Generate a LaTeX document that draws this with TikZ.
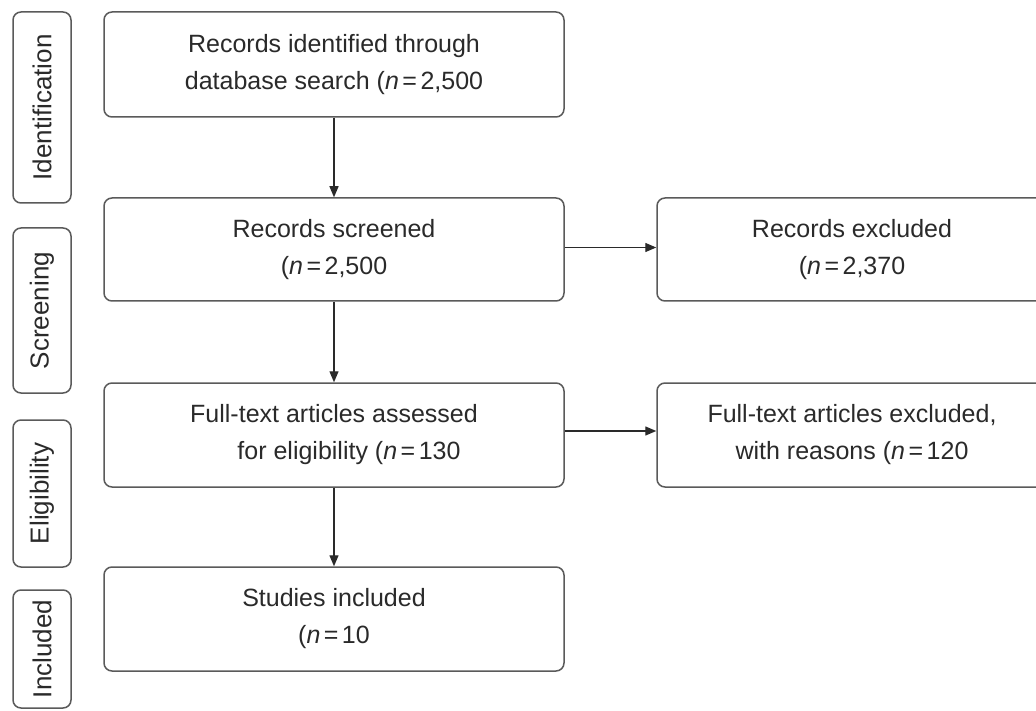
\documentclass[tikz,border=0pt]{standalone}
\usepackage{fontspec}
\setmainfont{Liberation Sans}
\usetikzlibrary{arrows.meta}
\definecolor{edge}{HTML}{5A5A5A}
\definecolor{ink}{HTML}{2A2A2A}
\newcommand{\eqn}{\hspace{0.14em}=\hspace{0.14em}}
\begin{document}
\begin{tikzpicture}[x=1pt,y=-1pt,
  box/.style={draw=edge,line width=1.5pt,rounded corners=8pt,align=center,
    text=ink,font=\fontsize{25}{37}\selectfont,inner sep=0pt},
  side/.style={draw=edge,line width=1.5pt,rounded corners=8pt,
    text=ink,font=\fontsize{26}{30}\selectfont,inner sep=0pt},
  sidetext/.style={rotate=90,text=ink,font=\fontsize{26}{30}\selectfont},
  conn/.style={draw=ink,line width=1.3pt,-{Triangle[length=11pt,width=9pt]}}]
\useasboundingbox (0,0) rectangle (1036,711);
\clip (0,0) rectangle (1036,711);
\fill[white] (0,0) rectangle (1036,711);
% side labels
\node[side,minimum width=58pt,minimum height=191pt] (sid) at (42,107.5) {};
\node[sidetext] (tid) at (sid.center) {Identification};
\node[side,minimum width=58pt,minimum height=165pt] (ssc) at (42,310.5) {};
\node[sidetext] (tsc) at (ssc.center) {Screening};
\node[side,minimum width=58pt,minimum height=147pt] (sel) at (42,493.5) {};
\node[sidetext] (tel) at (sel.center) {Eligibility};
\node[side,minimum width=58pt,minimum height=118pt] (sin) at (42,649) {};
\node[sidetext] (tin) at (sin.center) {Included};
% main boxes
\node[box,minimum width=460pt,minimum height=105pt] (b1) at (334,64.5)
  {Records identified through\\database search (\textit{n}\eqn2,500};
\node[box,minimum width=460pt,minimum height=103pt] (b2) at (334,249.5)
  {Records screened\\(\textit{n}\eqn2,500};
\node[box,minimum width=460pt,minimum height=104pt] (b3) at (334,435)
  {Full-text articles assessed\\\hspace{1.2em}for eligibility (\textit{n}\eqn130};
\node[box,minimum width=460pt,minimum height=104pt] (b4) at (334,619)
  {Studies included\\(\textit{n}\eqn10};
% right boxes
\node[box,minimum width=390pt,minimum height=103pt] (r1) at (852,249.5)
  {Records excluded\\(\textit{n}\eqn2,370};
\node[box,minimum width=390pt,minimum height=104pt] (r2) at (852,435)
  {Full-text articles excluded,\\with reasons (\textit{n}\eqn120};
% connectors
\draw[conn] (b1) -- (b2);
\draw[conn] (b2) -- (b3);
\draw[conn] (b3) -- (b4);
\draw[conn] (b2.east) ++(0,-2) coordinate (a1) -- (a1 -| r1.west);
\draw[conn] (b3.east) ++(0,-4) coordinate (a2) -- (a2 -| r2.west);
\end{tikzpicture}
\end{document}
